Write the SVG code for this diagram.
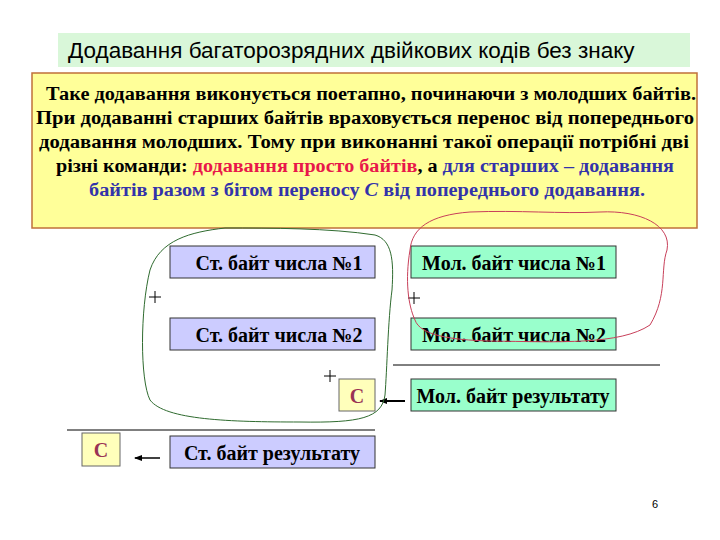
<svg xmlns="http://www.w3.org/2000/svg" width="720" height="540" viewBox="0 0 720 540">
<style>
text{font-family:"Liberation Serif",serif;font-weight:bold;fill:#000}
.st{fill:#ccccff;stroke:#333;stroke-width:1}
.ml{fill:#99ffcc;stroke:#333;stroke-width:1}
.c{fill:#ffffbb;stroke:#666;stroke-width:1}
.b{font-size:20px;text-anchor:middle}
.t{font-size:18px}
</style>
<defs><marker id="a" markerWidth="8" markerHeight="8" refX="7" refY="4" orient="auto" markerUnits="userSpaceOnUse"><path d="M0,1 L8,4 L0,7z" fill="#000"/></marker></defs>
<rect width="720" height="540" fill="#fff"/>
<g id="title"><rect x="58" y="33" width="632" height="34" fill="#d9f7d9"/>
<text x="68" y="58" style="font-family:'Liberation Sans',sans-serif;font-weight:normal;font-size:22.5px">Додавання багаторозрядних двійкових кодів без знаку</text></g>
<g id="desc"><rect x="32" y="73" width="665" height="155" fill="#ffff99" stroke="#c0703a" stroke-width="1.5"/>
<text class="t" x="46" y="100" textLength="650" lengthAdjust="spacingAndGlyphs">Таке додавання виконується поетапно, починаючи з молодших байтів.</text>
<text class="t" x="36" y="124" textLength="658" lengthAdjust="spacingAndGlyphs">При додаванні старших байтів враховується перенос від попереднього</text>
<text class="t" x="39" y="148" textLength="650" lengthAdjust="spacingAndGlyphs">додавання молодших. Тому при виконанні такої операції  потрібні дві</text>
<text class="t" x="56" y="172" textLength="618" lengthAdjust="spacingAndGlyphs">різні команди: <tspan fill="#e8184a">додавання просто байтів</tspan>, а <tspan fill="#3333aa">для старших – додавання</tspan></text>
<text class="t" x="89" y="196" textLength="556" lengthAdjust="spacingAndGlyphs" fill="#3333aa"><tspan fill="#3333aa">байтів разом з бітом переносу <tspan font-style="italic">С</tspan> від попереднього додавання.</tspan></text></g>
<g id="st1"><rect class="st" x="170" y="246" width="205" height="32"/><text class="b" x="279" y="270">Ст. байт числа №1</text></g>
<g id="ml1"><rect class="ml" x="411" y="246" width="205" height="32"/><text class="b" x="514" y="270">Мол. байт числа №1</text></g>
<g id="st2"><rect class="st" x="170" y="318" width="205" height="32"/><text class="b" x="279" y="342">Ст. байт числа №2</text></g>
<g id="ml2"><rect class="ml" x="411" y="318" width="205" height="32"/><text class="b" x="514" y="342">Мол. байт числа №2</text></g>
<g id="c1"><rect class="c" x="339" y="379" width="36" height="32"/><text class="b" x="357" y="403" style="fill:#993355">С</text></g>
<g id="mlr"><rect class="ml" x="411" y="379" width="205" height="32"/><text class="b" x="513" y="403">Мол. байт результату</text></g>
<g id="str"><rect class="st" x="170" y="436" width="205" height="32"/><text class="b" x="272" y="460">Ст. байт результату</text></g>
<g id="c2"><rect class="c" x="82" y="433" width="38" height="33"/><text class="b" x="101" y="457" style="fill:#993355">С</text></g>
<g id="plus" stroke="#000" stroke-width="1"><path d="M149,297 h12 M155,291 v12"/><path d="M408,298 h12 M414,292 v12"/><path d="M324,376 h12 M330,370 v12"/></g>
<text x="655" y="508" style="font-family:'Liberation Sans',sans-serif;font-weight:normal;font-size:11px;text-anchor:middle">6</text>
<g id="connectors" fill="none" stroke="#000">
<line x1="393" y1="365" x2="660" y2="365"/>
<line x1="67" y1="430" x2="375" y2="430"/>
<line x1="405" y1="401" x2="380" y2="401" stroke-width="2" marker-end="url(#a)"/>
<line x1="160" y1="458" x2="135" y2="458" stroke-width="1.5" marker-end="url(#a)"/>
<path d="M225,228 C190,232 160,240 150,270 C140,310 140,380 150,400 C165,420 230,422 300,422 C360,423 382,418 385,395 C387,370 388,320 392,290 C394,260 392,240 375,235 C330,228 270,228 225,228Z" stroke="#2f6b2f" stroke-width="1"/>
<path d="M470,212 C430,215 412,228 410,250 C405,280 408,305 415,320 C420,335 450,340 490,341 C560,342 620,345 650,325 C668,295 660,270 667,250 C672,225 640,210 600,212 C560,214 520,210 470,212Z" stroke="#c8405a" stroke-width="1"/>
</g>
</svg>
